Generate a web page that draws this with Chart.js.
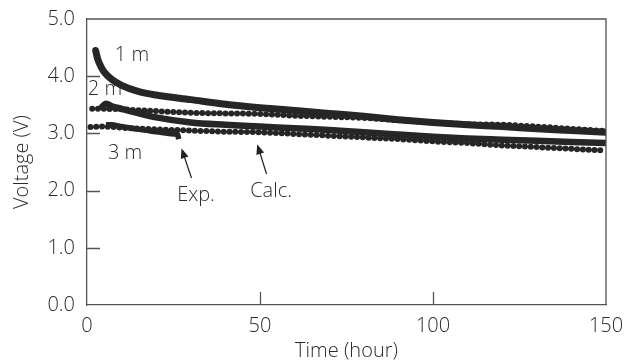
<!DOCTYPE html>
<html>
<head>
<meta charset="utf-8">
<script src="https://cdn.jsdelivr.net/npm/chart.js@4.4.1/dist/chart.umd.min.js"></script>
<style>
  html, body { margin: 0; padding: 0; background: #fff; }
</style>
</head>
<body>
<canvas id="voltChart" width="624" height="363"></canvas>
<script>
// Measured curves (thick lines)
const t1mExp = [2.5, 3, 4, 5, 7, 10, 15, 20, 30, 40, 50, 60, 70, 80, 90, 100, 110, 120, 130, 140, 150];
const v1mExp = [4.45, 4.32, 4.17, 4.07, 3.95, 3.84, 3.73, 3.67, 3.59, 3.51, 3.45, 3.40, 3.35, 3.30, 3.24, 3.19, 3.15, 3.12, 3.08, 3.05, 3.02];

const t2mExp = [4, 5.5, 7, 10, 15, 20, 30, 40, 50, 60, 70, 80, 90, 100, 110, 120, 130, 140, 150];
const v2mExp = [3.44, 3.52, 3.48, 3.43, 3.35, 3.28, 3.19, 3.15, 3.12, 3.09, 3.06, 3.02, 2.98, 2.94, 2.91, 2.89, 2.87, 2.85, 2.83];

const t3mExp = [5.5, 7, 10, 15, 20, 25, 26.2, 26.5];
const v3mExp = [3.15, 3.15, 3.12, 3.07, 3.03, 2.99, 2.98, 2.90];

// Calculated curves (dotted)
const t2mCalc = [1.5, 5, 10, 20, 30, 40, 50, 60, 70, 80, 90, 100, 110, 120, 130, 140, 150];
const v2mCalc = [3.43, 3.43, 3.42, 3.39, 3.36, 3.35, 3.34, 3.31, 3.29, 3.27, 3.23, 3.19, 3.16, 3.15, 3.12, 3.08, 3.04];

const t3mCalc = [1, 5, 10, 20, 30, 40, 50, 60, 70, 80, 90, 100, 110, 120, 130, 140, 150];
const v3mCalc = [3.11, 3.12, 3.10, 3.07, 3.05, 3.03, 3.02, 2.99, 2.96, 2.93, 2.90, 2.86, 2.83, 2.79, 2.76, 2.73, 2.70];

const xTicks = [0, 50, 100, 150];
const yTicks = [0, 1, 2, 3, 4, 5];

const ink = '#262626';
const textColor = '#2a2a2a';
const axisColor = '#555555';
const fontFamily = '"Open Sans", "DejaVu Sans", sans-serif';
const font = { family: fontFamily, size: 20, weight: 300 };

function pts(ts, vs) {
  return ts.map((t, i) => ({ x: t, y: vs[i] }));
}

function expLine(ts, vs, w, cap) {
  return {
    data: pts(ts, vs),
    borderColor: ink,
    borderWidth: w,
    borderCapStyle: cap,
    borderJoinStyle: 'round',
    pointRadius: 0,
    cubicInterpolationMode: 'monotone',
    fill: false
  };
}

function calcLine(ts, vs) {
  return {
    data: pts(ts, vs),
    borderColor: ink,
    borderWidth: 6,
    borderDash: [0, 5.8],
    borderCapStyle: 'round',
    pointRadius: 0,
    cubicInterpolationMode: 'monotone',
    fill: false
  };
}

// text labels and arrows, positioned in data units
const notes = [
  { text: '1 m', x: 13, y: 4.36 },
  { text: '2 m', x: 5.2, y: 3.77 },
  { text: '3 m', x: 11, y: 2.65 },
  { text: 'Exp.', x: 31.5, y: 1.92 },
  { text: 'Calc.', x: 53.2, y: 1.98 }
];
const arrows = [
  { from: [30.2, 2.22], to: [27.3, 2.74] },
  { from: [51.9, 2.29], to: [49.2, 2.81] }
];

const frame = {
  id: 'frame',
  afterDatasetsDraw(chart) {
    const { ctx, chartArea: a, scales: { x, y } } = chart;
    ctx.save();
    ctx.strokeStyle = axisColor;
    ctx.lineWidth = 1.3;
    ctx.beginPath();
    ctx.moveTo(a.left, a.top);
    ctx.lineTo(a.right, a.top);
    ctx.lineTo(a.right, a.bottom);
    // inward tick marks
    yTicks.slice(1, -1).forEach(v => {
      const py = Math.round(y.getPixelForValue(v)) + 0.5;
      ctx.moveTo(a.left, py);
      ctx.lineTo(a.left + 13, py);
    });
    xTicks.slice(1, -1).forEach(v => {
      const px = Math.round(x.getPixelForValue(v)) + 0.5;
      ctx.moveTo(px, a.bottom);
      ctx.lineTo(px, a.bottom - 13);
    });
    ctx.stroke();

    ctx.fillStyle = textColor;
    ctx.font = '300 20px ' + fontFamily;
    ctx.textAlign = 'center';
    ctx.textBaseline = 'middle';
    notes.forEach(n => {
      ctx.fillText(n.text, x.getPixelForValue(n.x), y.getPixelForValue(n.y));
    });

    ctx.strokeStyle = '#222';
    ctx.fillStyle = '#222';
    ctx.lineWidth = 1.2;
    arrows.forEach(ar => {
      const x0 = x.getPixelForValue(ar.from[0]), y0 = y.getPixelForValue(ar.from[1]);
      const x1 = x.getPixelForValue(ar.to[0]), y1 = y.getPixelForValue(ar.to[1]);
      const ang = Math.atan2(y1 - y0, x1 - x0);
      ctx.beginPath();
      ctx.moveTo(x0, y0);
      ctx.lineTo(x1 - 6 * Math.cos(ang), y1 - 6 * Math.sin(ang));
      ctx.stroke();
      ctx.beginPath();
      ctx.moveTo(x1, y1);
      ctx.lineTo(x1 - 10 * Math.cos(ang) + 4 * Math.sin(ang), y1 - 10 * Math.sin(ang) - 4 * Math.cos(ang));
      ctx.lineTo(x1 - 10 * Math.cos(ang) - 4 * Math.sin(ang), y1 - 10 * Math.sin(ang) + 4 * Math.cos(ang));
      ctx.closePath();
      ctx.fill();
    });
    ctx.restore();
  }
};

new Chart(document.getElementById('voltChart'), {
  type: 'line',
  data: {
    datasets: [
      calcLine(t2mCalc, v2mCalc),
      calcLine(t3mCalc, v3mCalc),
      expLine(t1mExp, v1mExp, 7, 'round'),
      expLine(t2mExp, v2mExp, 6.5, 'butt'),
      expLine(t3mExp, v3mExp, 5.5, 'butt')
    ]
  },
  options: {
    responsive: false,
    animation: false,
    layout: { padding: { top: 19, right: 18, left: 0, bottom: 0 } },
    plugins: {
      legend: { display: false },
      tooltip: { enabled: false }
    },
    scales: {
      x: {
        type: 'linear',
        min: 0,
        max: 150,
        afterBuildTicks: s => { s.ticks = xTicks.map(v => ({ value: v })); },
        ticks: { font: font, color: textColor, padding: 9, maxRotation: 0 },
        grid: { display: false, drawTicks: false },
        border: { color: axisColor, width: 1.3 },
        title: { display: true, text: 'Time (hour)', font: font, color: textColor, padding: { top: -1, bottom: 0 } },
        afterFit: s => { s.height = 58; s.paddingLeft = 0; s.paddingRight = 0; }
      },
      y: {
        min: 0,
        max: 5,
        afterBuildTicks: s => { s.ticks = yTicks.map(v => ({ value: v })); },
        ticks: { font: font, color: textColor, padding: 12, callback: v => v.toFixed(1) },
        grid: { display: false, drawTicks: false },
        border: { color: axisColor, width: 1.3 },
        title: { display: true, text: 'Voltage (V)', font: font, color: textColor, padding: { top: 10, bottom: 0 } },
        afterFit: s => { s.width = 87; s.paddingTop = 0; s.paddingBottom = 0; }
      }
    }
  },
  plugins: [frame]
});
</script>
</body>
</html>
